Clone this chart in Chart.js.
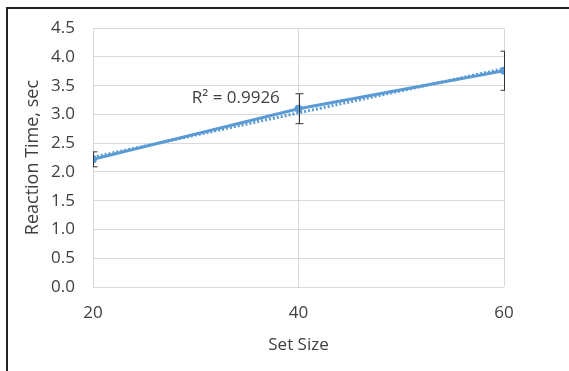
<!DOCTYPE html>
<html>
<head>
<meta charset="utf-8">
<script src="https://cdn.jsdelivr.net/npm/chart.js@4"></script>
<style>
  html, body { margin: 0; padding: 0; background: #fff; }
  #wrap { position: relative; width: 569px; height: 371px; }
  #frame { position: absolute; left: 6px; top: 7px; right: -4px; bottom: -4px; border-left: 2px solid #222; border-top: 2px solid #222; pointer-events: none; }
</style>
</head>
<body>
<div id="wrap">
  <canvas id="grafico" width="569" height="371"></canvas>
  <div id="frame"></div>
</div>
<script>
// datos
const setSize = [20, 40, 60];
const reactionTime = [2.22, 3.10, 3.76];
const errorBar = [0.13, 0.26, 0.34];
const yTicks = [0, 0.5, 1, 1.5, 2, 2.5, 3, 3.5, 4, 4.5];
const rTexto = 'R² = 0.9926';

// recta de tendencia (minimos cuadrados)
const n = setSize.length;
const mx = setSize.reduce((a, b) => a + b, 0) / n;
const my = reactionTime.reduce((a, b) => a + b, 0) / n;
let sxy = 0, sxx = 0;
for (let i = 0; i < n; i++) {
  sxy += (setSize[i] - mx) * (reactionTime[i] - my);
  sxx += (setSize[i] - mx) * (setSize[i] - mx);
}
const pendiente = sxy / sxx;
const tendencia = setSize.map(x => my + pendiente * (x - mx));

const azul = '#5b9bd5';
const gris = '#d9d9d9';
const texto = '#404040';
const fuente = "'Open Sans', sans-serif";

// barras de error y texto R2
const extras = {
  id: 'extras',
  afterDatasetsDraw(chart) {
    const { ctx, chartArea, scales } = chart;
    const xs = scales.x, ys = scales.y;
    ctx.save();
    ctx.beginPath();
    ctx.rect(chartArea.left, chartArea.top - 40, chartArea.right - chartArea.left + 1, chartArea.bottom - chartArea.top + 80);
    ctx.clip();
    ctx.strokeStyle = '#333';
    ctx.lineWidth = 1;
    for (let i = 0; i < n; i++) {
      const px = Math.round(xs.getPixelForValue(setSize[i])) + 0.5;
      const top = ys.getPixelForValue(reactionTime[i] + errorBar[i]);
      const bot = ys.getPixelForValue(reactionTime[i] - errorBar[i]);
      ctx.beginPath();
      ctx.moveTo(px, top); ctx.lineTo(px, bot);
      ctx.moveTo(px - 4, top); ctx.lineTo(px + 4, top);
      ctx.moveTo(px - 4, bot); ctx.lineTo(px + 4, bot);
      ctx.stroke();
    }
    ctx.restore();

    ctx.save();
    ctx.fillStyle = texto;
    ctx.font = '17px ' + fuente;
    ctx.textAlign = 'center';
    ctx.textBaseline = 'middle';
    ctx.fillText(rTexto, xs.getPixelForValue(33.9), ys.getPixelForValue(3.29));
    ctx.restore();
  }
};

const ctx = document.getElementById('grafico');
new Chart(ctx, {
  type: 'line',
  data: {
    datasets: [
      {
        label: 'Reaction Time',
        data: setSize.map((x, i) => ({ x: x, y: reactionTime[i] })),
        borderColor: azul,
        backgroundColor: azul,
        borderWidth: 3,
        pointRadius: 4,
        pointBorderWidth: 0,
        tension: 0,
        order: 1
      },
      {
        label: 'Tendencia',
        data: setSize.map((x, i) => ({ x: x, y: tendencia[i] })),
        borderColor: azul,
        borderWidth: 3,
        borderDash: [2, 2],
        pointRadius: 0,
        tension: 0,
        order: 2
      }
    ]
  },
  options: {
    responsive: false,
    animation: false,
    devicePixelRatio: 1,
    layout: { padding: { left: 0, top: 27, right: 65, bottom: 0 } },
    plugins: { legend: { display: false }, tooltip: { enabled: false } },
    scales: {
      x: {
        type: 'linear',
        min: 20, max: 60,
        afterBuildTicks: s => { s.ticks = setSize.map(v => ({ value: v })); },
        afterFit: s => { s.height = 84; },
        grid: { color: gris, drawTicks: false, lineWidth: 1 },
        border: { display: false },
        ticks: { color: texto, font: { family: fuente, size: 17 }, padding: 16, maxRotation: 0 },
        title: { display: true, text: 'Set Size', color: texto, font: { family: fuente, size: 17 }, padding: { top: 0, bottom: 16 } }
      },
      y: {
        min: 0, max: 4.5,
        afterBuildTicks: s => { s.ticks = yTicks.map(v => ({ value: v })); },
        afterFit: s => { s.width = 93; },
        grid: { color: gris, drawTicks: false, lineWidth: 1 },
        border: { display: false },
        ticks: { color: texto, font: { family: fuente, size: 17 }, padding: 18, callback: v => v.toFixed(1) },
        title: { display: true, text: 'Reaction Time, sec', color: texto, font: { family: fuente, size: 18 }, padding: { top: 22, bottom: 0 } }
      }
    }
  },
  plugins: [extras]
});
</script>
</body>
</html>
